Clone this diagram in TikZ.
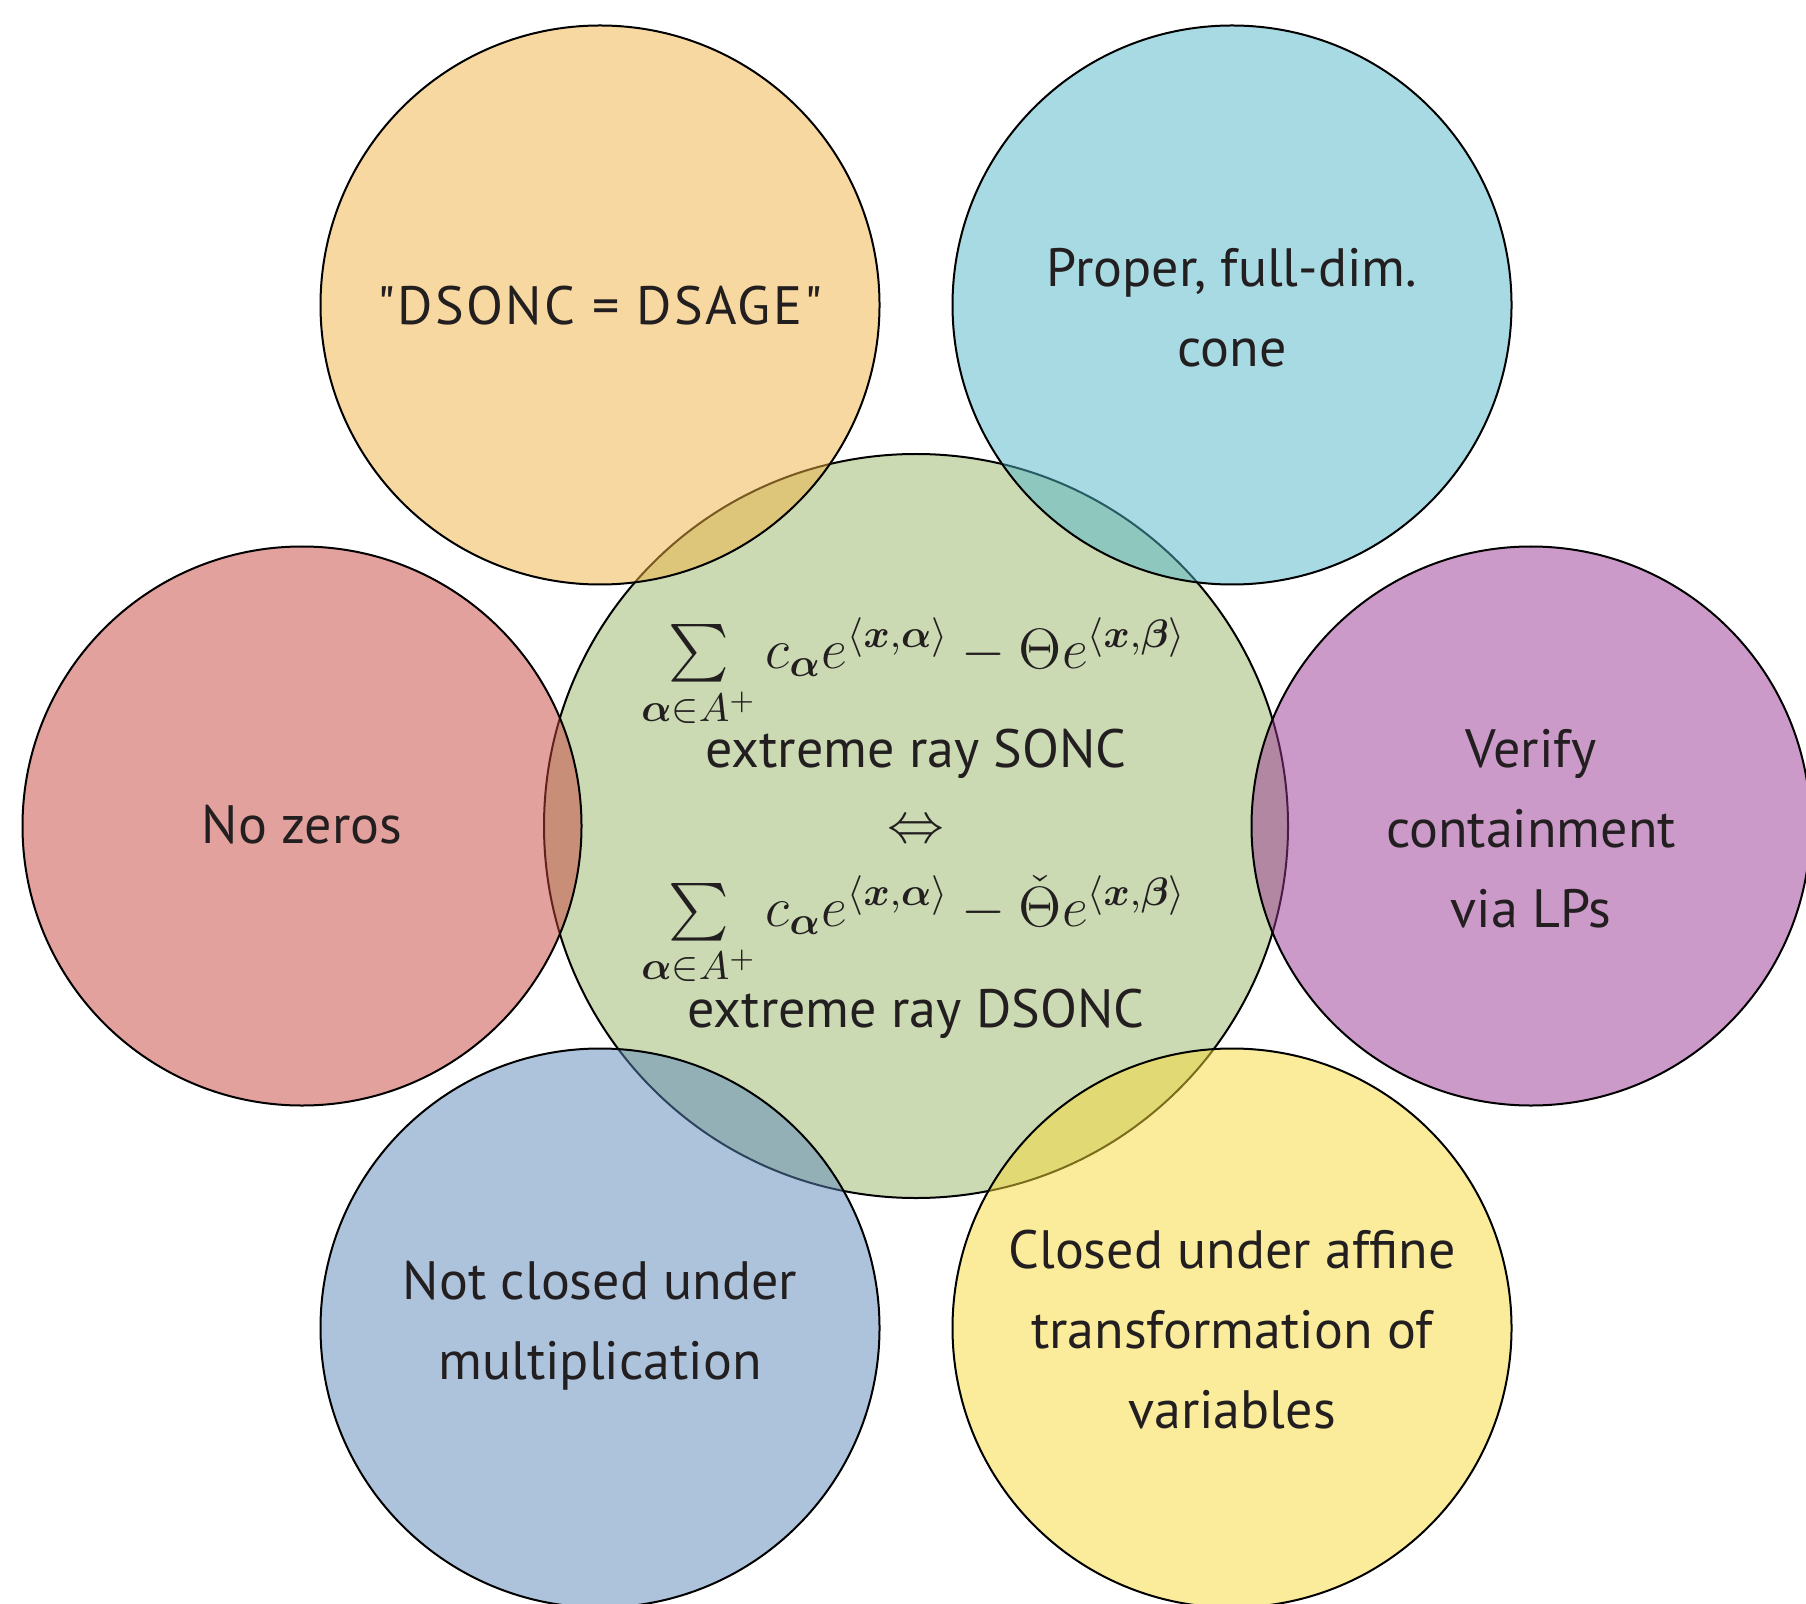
\RequirePackage{fix-cm}
\documentclass[tikz,border=0pt]{standalone}
\usepackage{amsmath}
\usepackage[no-math]{fontspec}
\setmainfont{PT Sans}
\newfontfamily\labelfont{PT Sans}
\newfontfamily\widelabelfont{PT Sans}[LetterSpace=4.5]
\definecolor{cgreen}{RGB}{203,218,179}
\definecolor{corange}{RGB}{239,177,65}
\definecolor{ccyan}{RGB}{81,181,199}
\definecolor{cred}{RGB}{199,67,61}
\definecolor{cpurple}{RGB}{153,53,145}
\definecolor{cblue}{RGB}{91,135,185}
\definecolor{cyellow}{RGB}{245,217,55}
\definecolor{txt}{RGB}{35,31,32}
\begin{document}
\begin{tikzpicture}[x=0.25pt,y=-0.25pt,
  venn/.style={circle,draw=black,line width=0.5pt,inner sep=0pt,outer sep=0pt,minimum size=139.75pt},
  outerc/.style={venn,fill opacity=0.5},
  lbl/.style={align=center,text=txt,inner sep=0pt,font=\labelfont\fontsize{13.5}{20}\selectfont},
  mth/.style={anchor=base,text=txt,inner sep=0pt,font=\labelfont\fontsize{14.2}{16}\selectfont},
  txtline/.style={anchor=base,text=txt,inner sep=0pt,font=\labelfont\fontsize{13.5}{16}\selectfont}]
\useasboundingbox (0,0) rectangle (1806,1603);
\clip (0,0) rectangle (1806,1603);
\node[venn,minimum size=186pt,fill=cgreen] (green) at (916,826) {};
\node[outerc,fill=corange] (orange) at (600,305) {};
\node[outerc,fill=ccyan] (cyan) at (1232,305) {};
\node[outerc,fill=cred] (red) at (302,826) {};
\node[outerc,fill=cpurple] (purple) at (1531,826) {};
\node[outerc,fill=cblue] (blue) at (600,1328) {};
\node[outerc,fill=cyellow] (yellow) at (1232,1328) {};
% labels
\node[lbl,font=\widelabelfont\fontsize{13.5}{20}\selectfont] (torange) at (600,306) {"DSONC = DSAGE"};
\node[lbl] (tcyan) at (1232,308) {Proper, full-dim.\\cone};
\node[lbl] (tred) at (302,825) {No zeros};
\node[lbl] (tpurple) at (1531,829) {Verify\\containment\\via LPs};
\node[lbl] (tblue) at (600,1326) {Not closed under\\multiplication};
\node[lbl] (tyellow) at (1232,1330) {Closed under affine\\transformation of\\variables};
% centre
\node[mth] (f1) at (914,668) {$\sum\limits_{\boldsymbol{\alpha}\in A^+} c_{\boldsymbol{\alpha}}e^{\langle\boldsymbol{x},\boldsymbol{\alpha}\rangle}-\Theta e^{\langle\boldsymbol{x},\boldsymbol{\beta}\rangle}$};
\node[txtline] (s1) at (916,767) {extreme ray SONC};
\node[text=txt,inner sep=0pt,font=\fontsize{14.2}{16}\selectfont] (iff) at (916,832) {$\Leftrightarrow$};
\node[mth] (f2) at (914,926) {$\sum\limits_{\boldsymbol{\alpha}\in A^+} c_{\boldsymbol{\alpha}}e^{\langle\boldsymbol{x},\boldsymbol{\alpha}\rangle}-\check{\Theta} e^{\langle\boldsymbol{x},\boldsymbol{\beta}\rangle}$};
\node[txtline] (s2) at (916,1027) {extreme ray DSONC};
\end{tikzpicture}
\end{document}
